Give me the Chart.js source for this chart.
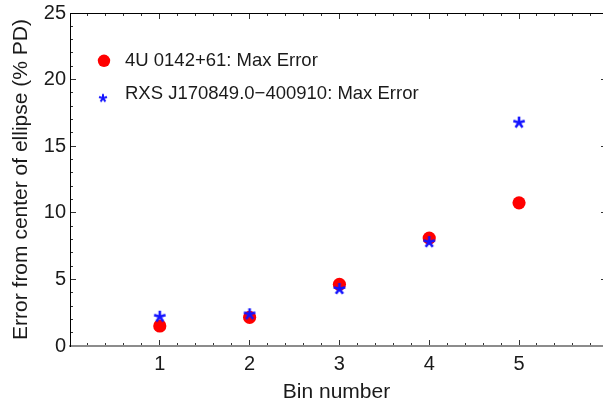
<!DOCTYPE html>
<html lang="en">
<head>
<meta charset="UTF-8">
<title>Max error per bin</title>
<script src="https://cdn.jsdelivr.net/npm/chart.js"></script>
<style>
  html, body { margin: 0; padding: 0; overflow: hidden; background: #fff; }
  #wrap { width: 603px; height: 401px; }
</style>
</head>
<body>
<div id="wrap"><canvas id="errChart" width="603" height="401"></canvas></div>
<script>
// values per energy bin
const bins = [1, 2, 3, 4, 5];
const err4U = [1.5, 2.15, 4.63, 8.1, 10.75];
const errRXS = [2.2, 2.38, 4.28, 7.8, 16.77];
const seriesNames = ['4U 0142+61: Max Error', 'RXS J170849.0\u2212400910: Max Error'];
const xLabels = [1, 2, 3, 4, 5];
const yLabels = [0, 5, 10, 15, 20, 25];

const FONT = "'Liberation Sans', Arial, sans-serif";
const INK = '#1a1a1a';
const X_MAX = 5.935;   // plot is clipped a little before 6

// five-armed asterisk marker, drawn once into a small canvas
function asterisk(size, arm, lw, color) {
  const c = document.createElement('canvas');
  c.width = c.height = size;
  const g = c.getContext('2d');
  g.strokeStyle = color;
  g.lineWidth = lw;
  g.translate(size / 2, size / 2);
  for (let k = 0; k < 5; k++) {
    const a = -Math.PI / 2 + k * 2 * Math.PI / 5;
    g.beginPath();
    g.moveTo(0, 0);
    g.lineTo(arm * Math.cos(a), arm * Math.sin(a));
    g.stroke();
  }
  return c;
}
const star = asterisk(16, 6, 2.6, '#1414ff');
const legendStar = asterisk(12, 4.2, 2, '#1414ff');

const onList = (list, v) => list.some(t => Math.abs(t - v) < 1e-6);

// keep label overhang from pushing the plot area around
function noOverhang(s) {
  s.paddingTop = s.paddingBottom = s.paddingLeft = s.paddingRight = 0;
}

// frame axis helper: ticks drawn inward, no labels
function frameAxis(position, min, max, step, len, border, weight) {
  const horiz = position === 'top' || position === 'bottom';
  return {
    type: 'linear', position: position, min: min, max: max, weight: weight || 0,
    ticks: { stepSize: step, display: false, autoSkip: false, includeBounds: false },
    grid: { drawOnChartArea: false, drawTicks: true, tickLength: -len, tickColor: '#333', tickWidth: 1 },
    border: border ? { display: true, color: border, width: 1 } : { display: false },
    afterFit: s => { noOverhang(s); if (horiz) s.height = 0; else s.width = 0; }
  };
}

// legend sits inside the plot, top left
const insetLegend = {
  id: 'insetLegend',
  afterDatasetsDraw(chart) {
    const { ctx, chartArea } = chart;
    const rows = [47.8, 81.2];
    ctx.save();
    ctx.font = '18.5px ' + FONT;
    ctx.textBaseline = 'middle';
    chart.data.datasets.forEach((ds, i) => {
      const cx = chartArea.left + 34;
      const cy = chartArea.top + rows[i];
      if (ds.pointStyle === 'circle') {
        ctx.fillStyle = ds.backgroundColor;
        ctx.beginPath();
        ctx.arc(cx, cy, 6.2, 0, Math.PI * 2);
        ctx.fill();
      } else {
        ctx.drawImage(legendStar, cx - 1 - legendStar.width / 2, cy + 4 - legendStar.height / 2);
      }
      ctx.fillStyle = INK;
      ctx.fillText(ds.label, chartArea.left + 55, cy);
    });
    ctx.restore();
  }
};

const tickFont = { family: FONT, size: 20 };
const titleFont = { family: FONT, size: 21 };

new Chart(document.getElementById('errChart'), {
  type: 'scatter',
  data: {
    datasets: [{
      label: seriesNames[0],
      data: bins.map((b, i) => ({ x: b, y: err4U[i] })),
      pointStyle: 'circle',
      pointRadius: 6.6,
      backgroundColor: '#ff0000',
      borderWidth: 0,
      order: 2
    }, {
      label: seriesNames[1],
      data: bins.map((b, i) => ({ x: b, y: errRXS[i] })),
      pointStyle: star,
      pointRadius: 6,
      backgroundColor: '#1414ff',
      borderWidth: 0,
      order: 1
    }]
  },
  options: {
    responsive: false,
    animation: false,
    events: [],
    layout: { autoPadding: false, padding: { top: 13, right: 0, left: 0, bottom: 0 } },
    plugins: { legend: { display: false }, tooltip: { enabled: false } },
    scales: {
      x: {
        type: 'linear', position: 'bottom', min: 0, max: X_MAX,
        ticks: {
          stepSize: 1, padding: 12, color: INK, font: tickFont, maxRotation: 0, autoSkip: false, includeBounds: false,
          callback: v => onList(xLabels, v) ? String(v) : ''
        },
        grid: { drawOnChartArea: false, drawTicks: true, tickLength: -6, tickColor: '#333', tickWidth: 1 },
        border: { display: true, color: '#8c8c8c', width: 2 },
        title: { display: true, text: 'Bin number', color: INK, font: titleFont, padding: { top: 0, bottom: -4 } },
        afterFit: s => { noOverhang(s); s.height = 55; }
      },
      xMinor: frameAxis('bottom', 0, X_MAX, 0.2, 3, null, -1),
      xTop: frameAxis('top', 0, X_MAX, 1, 6, '#000'),
      xTopMinor: frameAxis('top', 0, X_MAX, 0.2, 3, null, -1),
      y: {
        type: 'linear', position: 'left', min: 0, max: 25,
        ticks: {
          stepSize: 5, padding: 10, color: INK, font: tickFont, autoSkip: false,
          callback: v => onList(yLabels, v) ? String(v) : ''
        },
        grid: { drawOnChartArea: false, drawTicks: true, tickLength: -6, tickColor: '#333', tickWidth: 1 },
        border: { display: true, color: '#000', width: 1 },
        title: { display: true, text: 'Error from center of ellipse (% PD)', color: INK, font: titleFont, padding: { top: 8.5, bottom: 0 } },
        afterFit: s => { noOverhang(s); s.width = 70; }
      },
      yMinor: frameAxis('left', 0, 25, 1, 3, null, -1),
      // only the tips of the right-hand frame ticks reach into view
      yRight: frameAxis('right', 0, 25, 5, 2, '#000')
    }
  },
  plugins: [insetLegend]
});
</script>
</body>
</html>
